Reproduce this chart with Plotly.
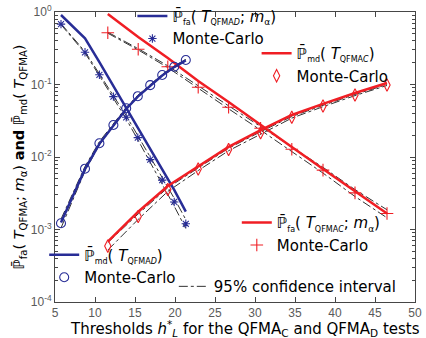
import plotly.graph_objects as go

# Thresholds used for each detector
h_qfma_d = [5.75, 8.75, 10.55, 12.3, 13.9, 15.35, 16.9, 18.4, 19.9, 21.35]
h_qfma_c = [11.6, 15.4, 19.1, 22.9, 26.7, 30.7, 34.6, 38.5, 42.5, 46.5]

# QFMA_D: analytical false-alarm / missed-detection bounds
pfa_d_theory = [0.909, 0.434, 0.204, 0.0953, 0.0474, 0.0251, 0.0129, 0.00662, 0.00351, 0.00176]
pmd_d_theory = [0.00125, 0.0068, 0.0152, 0.027, 0.046, 0.068, 0.097, 0.133, 0.174, 0.215]
# QFMA_D: Monte-Carlo estimates and 95% confidence bounds
pfa_d_mc = [0.68, 0.278, 0.136, 0.068, 0.0353, 0.0185, 0.0092, 0.0048, 0.0024, 0.0012]
pfa_d_lo = [0.67, 0.272, 0.132, 0.065, 0.0335, 0.0173, 0.0084, 0.0043, 0.0021, 0.00103]
pfa_d_hi = [0.69, 0.284, 0.140, 0.071, 0.0371, 0.0197, 0.0100, 0.0053, 0.0027, 0.00137]
pmd_d_mc = [0.00122, 0.0069, 0.0155, 0.0276, 0.047, 0.069, 0.098, 0.135, 0.176, 0.218]
pmd_d_lo = [0.00105, 0.0064, 0.0147, 0.0265, 0.0455, 0.067, 0.0955, 0.132, 0.172, 0.214]
pmd_d_hi = [0.00139, 0.0074, 0.0163, 0.0287, 0.0485, 0.071, 0.1005, 0.138, 0.180, 0.222]

# QFMA_C: analytical bounds
pmd_c_theory = [0.938, 0.452, 0.232, 0.112, 0.0574, 0.0276, 0.0137, 0.00683, 0.00334, 0.00166]
pfa_c_theory = [0.00068, 0.00176, 0.00398, 0.0075, 0.0138, 0.0235, 0.038, 0.054, 0.0763, 0.105]
# QFMA_C: Monte-Carlo estimates and 95% confidence bounds
pmd_c_mc = [0.518, 0.306, 0.176, 0.0915, 0.0485, 0.0249, 0.0128, 0.0066, 0.0032, 0.00166]
pmd_c_lo = [0.51, 0.300, 0.171, 0.088, 0.0462, 0.0235, 0.0119, 0.0060, 0.00285, 0.00145]
pmd_c_hi = [0.526, 0.312, 0.181, 0.095, 0.0508, 0.0263, 0.0137, 0.0072, 0.00355, 0.00187]
pfa_c_mc = [0.00059, 0.00151, 0.00356, 0.00683, 0.0127, 0.0216, 0.0353, 0.0505, 0.0716, 0.0984]
pfa_c_lo = [0.00052, 0.00138, 0.00335, 0.0065, 0.0122, 0.0209, 0.0344, 0.0494, 0.0703, 0.097]
pfa_c_hi = [0.00066, 0.00164, 0.00377, 0.00715, 0.0132, 0.0223, 0.0362, 0.0516, 0.0729, 0.0998]

y_tick_vals = [1e-4, 1e-3, 1e-2, 1e-1, 1]
y_tick_text = ["10<sup>-4</sup>", "10<sup>-3</sup>", "10<sup>-2</sup>", "10<sup>-1</sup>", "10<sup>0</sup>"]

BLUE = "rgb(40,45,150)"
RED = "rgb(240,30,36)"
CI = "rgb(50,50,50)"
PBAR = "\u2119\u0304"


def sub(s, px=8):
    return "<sub><span style='font-size:%dpx'>%s</span></sub>" % (px, s)


MC_LABEL = "Monte-Carlo"
lab_fa_d = PBAR + sub("fa") + "( <i>T</i>" + sub("QFMA<i>D</i>") + "; <i>m</i>" + sub("\u03b1", 9) + ")"
lab_md_c = PBAR + sub("md") + "( <i>T</i>" + sub("QFMA<i>C</i>") + ")"
lab_fa_c = PBAR + sub("fa") + "( <i>T</i>" + sub("QFMA<i>C</i>") + "; <i>m</i>" + sub("\u03b1", 9) + ")"
lab_md_d = PBAR + sub("md") + "( <i>T</i>" + sub("QFMA<i>D</i>") + ")"

fig = go.Figure()


def ci_pair(x, lo, hi, show):
    for k, yv in enumerate((lo, hi)):
        fig.add_trace(go.Scatter(
            x=x, y=yv, mode="lines",
            line=dict(color=CI, width=1, dash="dashdot"),
            name="95% confidence interval", legend="legend5",
            showlegend=(show and k == 0), hoverinfo="skip"))


# confidence intervals (drawn beneath the curves)
ci_pair(h_qfma_d, pfa_d_lo, pfa_d_hi, True)
ci_pair(h_qfma_d, pmd_d_lo, pmd_d_hi, False)
ci_pair(h_qfma_c, pmd_c_lo, pmd_c_hi, False)
ci_pair(h_qfma_c, pfa_c_lo, pfa_c_hi, False)

# QFMA_D false alarm
fig.add_trace(go.Scatter(
    x=h_qfma_d, y=pfa_d_theory, mode="lines", line=dict(color=BLUE, width=2.5),
    name=lab_fa_d, legend="legend"))
fig.add_trace(go.Scatter(
    x=h_qfma_d, y=pfa_d_mc, mode="markers",
    marker=dict(symbol="asterisk-open", size=7, color=BLUE, line=dict(color=BLUE, width=1.1)),
    name=MC_LABEL, legend="legend"))

# QFMA_C missed detection
fig.add_trace(go.Scatter(
    x=h_qfma_c, y=pmd_c_theory, mode="lines", line=dict(color=RED, width=2.5),
    name=lab_md_c, legend="legend2"))
fig.add_trace(go.Scatter(
    x=h_qfma_c, y=pfa_c_mc, mode="markers",
    marker=dict(symbol="diamond-tall-open", size=9, color=RED, line=dict(color=RED, width=1.1)),
    name=MC_LABEL, legend="legend2"))

# QFMA_C false alarm
fig.add_trace(go.Scatter(
    x=h_qfma_c, y=pfa_c_theory, mode="lines", line=dict(color=RED, width=2.5),
    name=lab_fa_c, legend="legend3"))
fig.add_trace(go.Scatter(
    x=h_qfma_c, y=pmd_c_mc, mode="markers",
    marker=dict(symbol="cross-thin-open", size=9, color=RED, line=dict(color=RED, width=1.1)),
    name=MC_LABEL, legend="legend3"))

# QFMA_D missed detection
fig.add_trace(go.Scatter(
    x=h_qfma_d, y=pmd_d_theory, mode="lines", line=dict(color=BLUE, width=2.5),
    name=lab_md_d, legend="legend4"))
fig.add_trace(go.Scatter(
    x=h_qfma_d, y=pmd_d_mc, mode="markers",
    marker=dict(symbol="circle-open", size=9, color=BLUE, line=dict(color=BLUE, width=1.1)),
    name=MC_LABEL, legend="legend4"))

leg_font = dict(family="DejaVu Sans", size=15, color="black")
leg_common = dict(bgcolor="rgba(0,0,0,0)", font=leg_font, tracegroupgap=0,
                  itemwidth=30, xanchor="left", yanchor="top")

x_title = ("Thresholds <i>h</i><sup>*</sup><sub><i>L</i></sub> for the "
           "QFMA<sub>C</sub> and QFMA<sub>D</sub> tests")

fig.update_layout(
    width=426, height=338,
    margin=dict(l=55, r=11, t=12, b=36, autoexpand=False),
    paper_bgcolor="white", plot_bgcolor="white",
    font=dict(family="DejaVu Sans", color="black"),
    legend=dict(x=0.215, y=1.042, **leg_common),
    legend2=dict(x=0.56, y=0.914, **leg_common),
    legend3=dict(x=0.505, y=0.33, **leg_common),
    legend4=dict(x=-0.03, y=0.219, **leg_common),
    legend5=dict(x=0.33, y=0.11, **leg_common),
    xaxis=dict(
        range=[5, 50], dtick=5, tick0=5,
        showgrid=False, zeroline=False,
        showline=True, linecolor="rgb(70,70,70)", linewidth=1, mirror="ticks",
        ticks="inside", ticklen=5, tickcolor="rgb(70,70,70)",
        tickfont=dict(family="Liberation Sans", size=12, color="rgb(90,90,90)"),
    ),
    yaxis=dict(
        type="log", range=[-4, 0],
        tickvals=y_tick_vals, ticktext=y_tick_text,
        showgrid=False, zeroline=False,
        showline=True, linecolor="rgb(70,70,70)", linewidth=1, mirror="allticks",
        ticks="inside", ticklen=5, tickcolor="rgb(70,70,70)",
        tickfont=dict(family="Liberation Sans", size=12, color="rgb(90,90,90)"),
        minor=dict(ticks="inside", ticklen=3, tickcolor="rgb(70,70,70)",
                   tickvals=[m * 10 ** e for e in range(-4, 0) for m in range(2, 10)]),
        title=dict(
            text=PBAR + "<sub>fa</sub>( <i>T</i><sub>QFMA</sub>; <i>m</i><sub>\u03b1</sub>) <b>and</b> "
                 + PBAR + "<sub>md</sub>( <i>T</i><sub>QFMA</sub>)",
            font=dict(family="DejaVu Sans", size=14.5, color="black"), standoff=2),
    ),
    annotations=[dict(
        text=x_title, xref="paper", yref="paper", x=0.528, y=-0.093,
        xanchor="center", yanchor="middle", showarrow=False,
        font=dict(family="DejaVu Sans", size=15, color="black"))],
)

fig.write_html("out.html")
